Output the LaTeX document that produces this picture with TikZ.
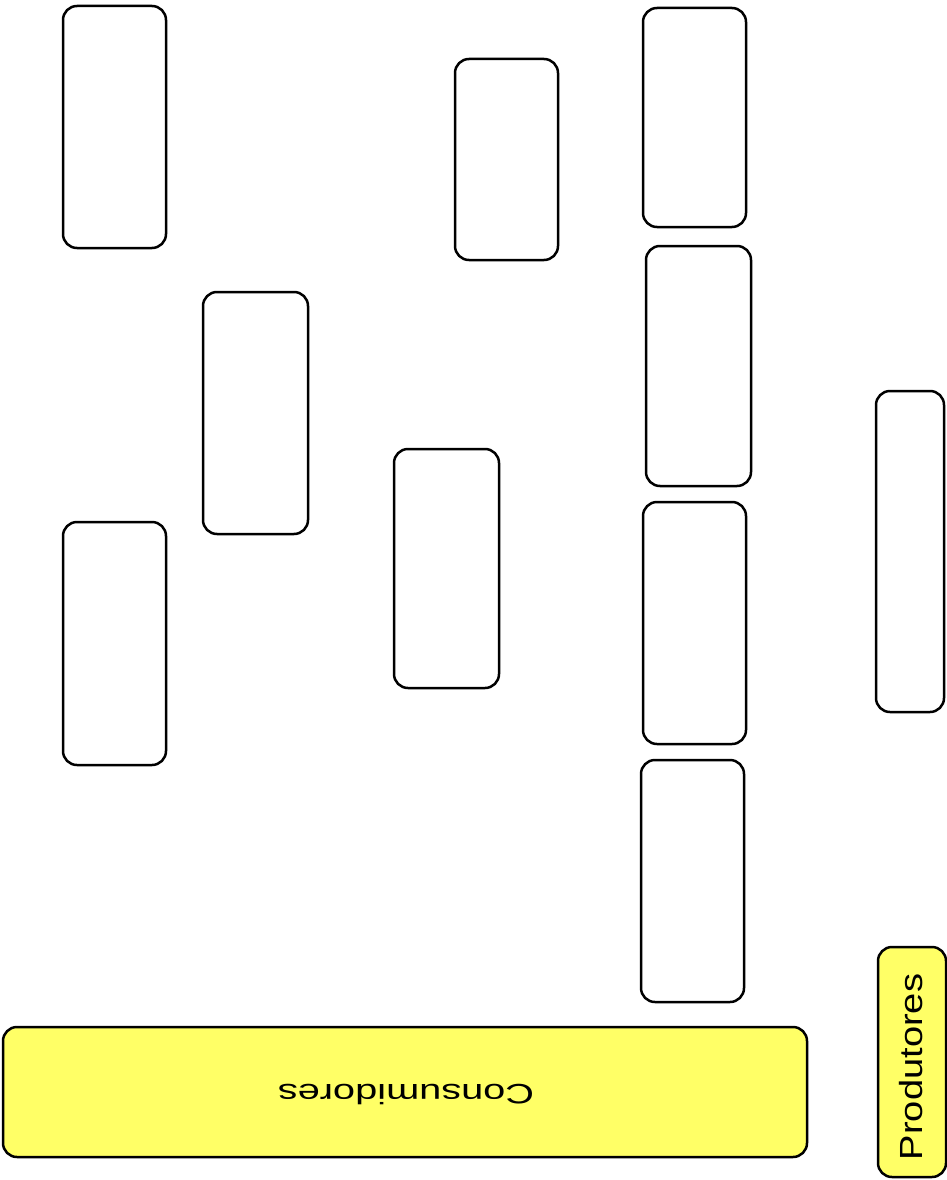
\documentclass[tikz,border=0pt]{standalone}
\usepackage{fontspec}
\setmainfont{Liberation Sans}
\definecolor{boxyellow}{HTML}{FFFF66}
\tikzset{
  blank/.style={draw=black, line width=2.5pt, rounded corners=14pt, fill=white},
  yellowbox/.style={draw=black, line width=2.5pt, rounded corners=14pt, fill=boxyellow},
}
\begin{document}
\begin{tikzpicture}[x=1pt,y=-1pt]
\useasboundingbox (0,0) rectangle (947,1180);
\draw[blank] (63,6) rectangle (166,248) coordinate (b1);
\draw[blank] (455,59) rectangle (558,260) coordinate (b2);
\draw[blank] (643,8) rectangle (746,227) coordinate (b3);
\draw[blank] (203,292) rectangle (308,534) coordinate (b4);
\draw[blank] (646,246) rectangle (751,486) coordinate (b5);
\draw[blank] (876,391) rectangle (944,712) coordinate (b6);
\draw[blank] (394,449) rectangle (499,688) coordinate (b7);
\draw[blank] (63,522) rectangle (166,765) coordinate (b8);
\draw[blank] (643,502) rectangle (746,744) coordinate (b9);
\draw[blank] (641,760) rectangle (744,1002) coordinate (b10);
\draw[yellowbox] (3,1027) rectangle (807,1157);
\node[rotate=180, font=\fontsize{28}{34}\selectfont, inner sep=0pt] (cons) at (406,1094) {\scalebox{1.42}[1]{Consumidores}};
\draw[yellowbox] (878,947) rectangle (946,1177);
\node[rotate=90, font=\fontsize{32}{38}\selectfont, inner sep=0pt] (prod) at (911,1067) {\scalebox{1.19}[1]{Produtores}};
\end{tikzpicture}
\end{document}
